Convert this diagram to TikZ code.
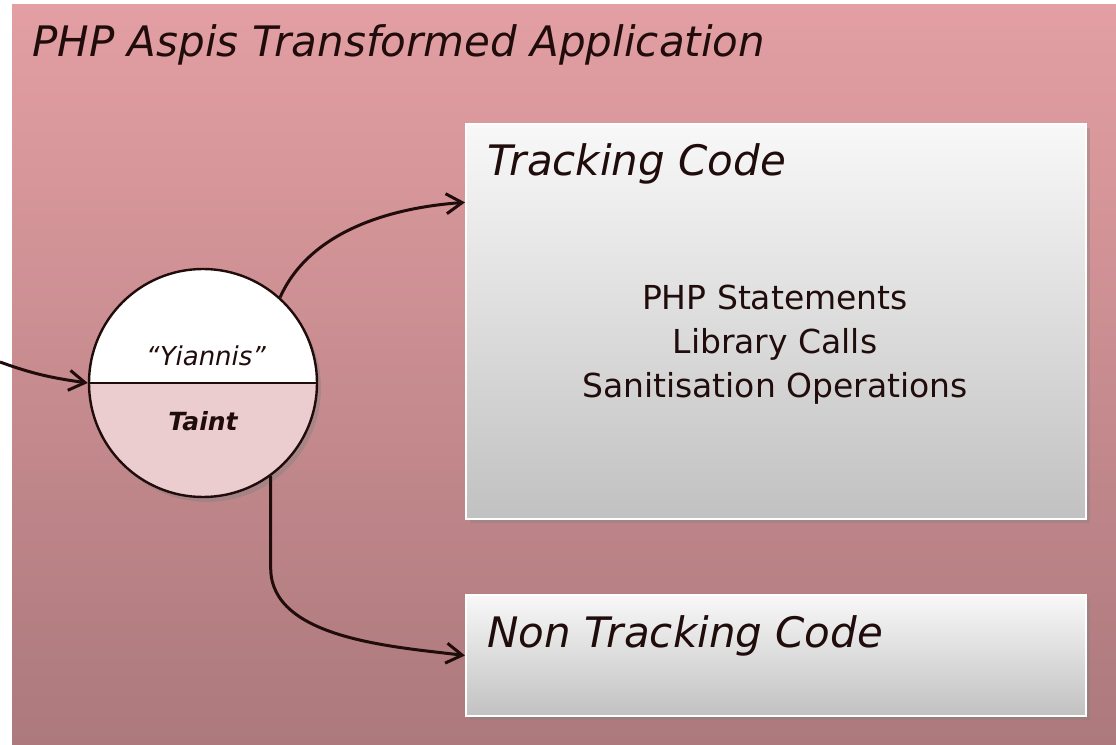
\documentclass[tikz,border=0pt]{standalone}
\usepackage{fontspec}
\setmainfont{DejaVu Sans}
\usetikzlibrary{positioning,arrows.meta,calc,shadows}

\definecolor{bgtop}{RGB}{227,159,163}
\definecolor{bgbot}{RGB}{172,121,124}
\definecolor{ink}{RGB}{33,12,12}
\definecolor{taintfill}{RGB}{235,205,207}
\definecolor{boxtop}{RGB}{248,248,248}
\definecolor{boxbot}{RGB}{193,193,193}

\begin{document}
\begin{tikzpicture}[x=0.5pt,y=0.5pt,
    codebox/.style={draw=white, line width=1pt, top color=boxtop, bottom color=boxbot,
        minimum width=310pt, anchor=south west,
        drop shadow={shadow xshift=2pt,shadow yshift=-2pt,opacity=0.35}},
    heading/.style={font=\fontsize{21}{25}\selectfont\itshape, text=ink, inner sep=0pt, anchor=base west},
    flow/.style={-{Straight Barb[length=8pt,width=10pt]}, line width=1.5pt, draw=ink}
]

    \useasboundingbox (0,0) rectangle (1116,745);
    \shade[top color=bgtop, bottom color=bgbot] (12,0) rectangle (1116,740);

    \node (app) [heading] at (32,688) {PHP Aspis Transformed Application};

    \node (track) [codebox, minimum height=197.5pt] at (465,225) {};
    \node (nontrack) [codebox, minimum height=60.5pt] at (465,28) {};

    \node (tracktitle) [heading] at ($(track.north west)+(22,-53)$) {Tracking Code};
    \node (nontracktitle) [heading] at ($(nontrack.north west)+(22,-54)$) {Non Tracking Code};
    \node (ops) [align=center, font=\fontsize{16.5}{22}\selectfont, text=ink] at (775,400)
        {PHP Statements\\Library Calls\\Sanitisation Operations};

    \node (val) [circle, minimum size=114pt, inner sep=0pt, fill=white, draw=ink, line width=1.2pt,
        drop shadow={shadow xshift=2pt,shadow yshift=-2.5pt,opacity=0.4},
        path picture={
            \fill[taintfill] (path picture bounding box.west) rectangle (path picture bounding box.south east);
            \draw[ink, line width=1pt] (path picture bounding box.west) -- (path picture bounding box.east);
        }] at (203,362) {};
    \node (name) [font=\fontsize{13}{15}\selectfont\itshape, text=ink] at (206,389) {“Yiannis”};
    \node (taint) [font=\fontsize{12.5}{15}\selectfont\bfseries\itshape, text=ink] at (203,324) {Taint};

    \coordinate (src) at (0,383);
    \coordinate (bend) at ($(val.-54)+(0,-92)$);

    \draw[flow] (src) to[out=-20,in=172] (val.west);
    \draw[flow] (val.48) to[out=66,in=184,looseness=0.9] ($(track.north west)!0.2!(track.south west)$);
    \draw[flow] (val.-54) -- (bend) to[out=-90,in=173,looseness=0.85] (nontrack.west);

\end{tikzpicture}
\end{document}
